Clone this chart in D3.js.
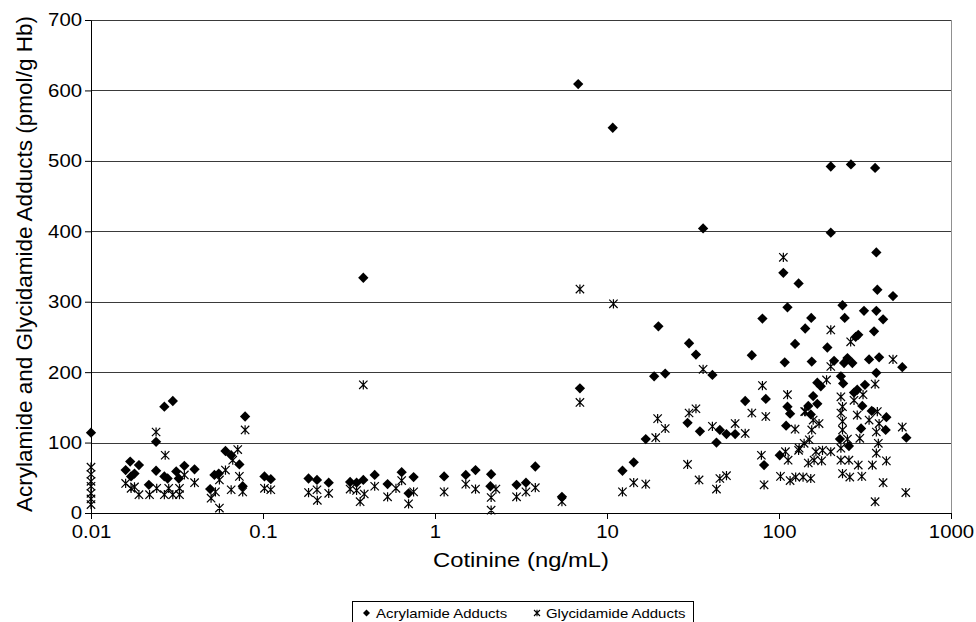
<!DOCTYPE html>
<html><head><meta charset="utf-8">
<script src="https://cdn.jsdelivr.net/npm/d3@7"></script>
<style>
html,body{margin:0;padding:0;background:#fff;}
svg{display:block;font-family:"Liberation Sans",Arial,sans-serif;}
</style></head>
<body><svg id="c" width="976" height="622"></svg>
<script>
// ---- data ----
const xTicks = [0.01, 0.1, 1, 10, 100, 1000];
const xTickLabels = ["0.01", "0.1", "1", "10", "100", "1000"];
const yTicks = [0, 100, 200, 300, 400, 500, 600, 700];
const seriesNames = ["Acrylamide Adducts", "Glycidamide Adducts"];

const acrX = [0.01,0.0159,0.0169,0.0179,0.0190,0.0171,0.0217,0.0239,0.0239,0.0267,0.0267,0.0279,0.0299,0.0313,0.0324,0.0349,0.0400,0.0493,0.0522,0.0553,0.0605,0.0653,0.0729,0.0762,0.0787,0.102,0.111,
0.184,0.206,0.241,0.321,0.350,0.383,0.383,0.446,0.530,0.640,0.702,0.751,1.13,1.51,1.72,2.12,2.10,2.98,3.38,3.83,5.47,6.80,6.96,10.8,12.3,14.3,16.8,18.8,19.9,21.8,
30.0,32.9,29.4,34.7,36.2,41.0,43.3,45.3,49.5,55.6,63.6,69.5,80.1,83.8,81.9,101,106,108,110,112,112,116,124,130,142,148,153,154,155,158,167,167,175,191,200,200,209,226,229,234,236,239,241,250,255,262,267,273,279,285,289,300,305,312,316,334,346,357,362,368,368,368,373,382,403,417,421,460,521,550];
const acrY = [114,61,73,56,68,52,40,60,101,151,52,49,159,59,49,67,62,34,54,56,88,82,69,38,137,52,48,
49,47,43,44,43,334,47,54,41,58,28,51,52,54,61,55,38,40,43,66,23,609,177,547,60,72,105,194,265,198,
241,225,128,116,404,196,100,118,112,112,159,224,276,162,68,82,341,214,124,151,292,141,240,326,262,152,140,277,215,166,185,155,180,235,492,398,216,105,194,295,184,213,277,220,95,495,213,171,250,175,253,120,152,287,182,218,145,258,490,370,287,199,317,221,275,118,136,308,207,107];

const glyX = [0.01,0.01,0.01,0.01,0.01,0.01,0.01,0.0239,0.0270,0.0159,0.0171,0.0179,0.0190,0.0219,0.0241,0.0267,0.0283,0.0299,0.0327,0.0327,0.0349,0.0400,0.0499,0.0529,0.0558,0.0558,0.0605,0.0653,0.0667,0.0713,0.0729,0.0762,0.0787,0.102,0.111,
0.184,0.206,0.207,0.241,0.321,0.350,0.367,0.383,0.388,0.446,0.530,0.593,0.640,0.702,0.751,1.13,1.51,1.72,2.12,2.12,2.26,2.98,3.38,3.83,5.47,6.96,6.96,10.9,12.3,14.3,16.8,19.2,19.7,
106,36.2,80.1,112,21.8,30.0,32.9,69.5,83.8,41.0,55.6,63.6,124,141,29.4,34.3,43.3,45.3,49.5,79.0,81.9,102,116,125,138,109,113,130,140,
200,200,261,460,189,362,362,229,229,229,229,273,308,234,234,234,234,143,373,285,334,158,155,171,382,368,368,521,250,295,378,150,131,164,179,200,148,160,177,255,289,349,421,153,258,303,403,546];
const glyY = [65,55,45,38,28,20,12,115,82,42,35,37,26,26,35,26,35,26,35,26,54,43,21,30,7,47,61,33,75,90,52,30,118,35,33,
29,33,18,28,34,32,16,182,27,38,23,35,46,13,30,30,41,34,22,4,34,23,30,36,16,157,318,297,30,43,41,107,134,
363,204,181,168,120,142,148,142,137,123,127,113,119,144,69,47,34,49,53,82,40,52,46,51,51,87,75,89,99,
260,208,243,218,189,183,16,165,142,92,75,160,168,151,130,118,56,144,144,139,132,132,118,127,127,115,85,122,105,106,99,104,92,87,89,87,71,75,74,75,68,68,74,49,51,52,43,29];

const acr = acrX.map((x, i) => ({x, y: acrY[i]}));
const gly = glyX.map((x, i) => ({x, y: glyY[i]}));

// ---- layout ----
const svg = d3.select("#c");
const L = 91, T = 20, W = 860, H = 493;
const SX = 1.1;   // horizontal text stretch seen in the reference
const LSX = 1.15; // legend text stretch
const x = d3.scaleLog().domain([0.01, 1000]).range([0, W]);
const y = d3.scaleLinear().domain([0, 700]).range([H, 0]);
const g = svg.append("g").attr("transform", `translate(${L},${T})`);

// gridlines
g.append("g").selectAll("line").data(yTicks.filter(d => d > 0)).join("line")
  .attr("x1", 0).attr("x2", W)
  .attr("y1", d => Math.round(y(d)) + 0.5).attr("y2", d => Math.round(y(d)) + 0.5)
  .attr("stroke", "#3a3a3a").attr("stroke-width", 1);
// right border
g.append("line").attr("x1", W + 0.5).attr("x2", W + 0.5).attr("y1", 0).attr("y2", H)
  .attr("stroke", "#909090");

// axes
const yAxis = g.append("g").call(d3.axisLeft(y).tickValues(yTicks).tickSize(6).tickPadding(4).tickFormat(d3.format("d")));
const xAxis = g.append("g").attr("transform", `translate(0,${H})`)
  .call(d3.axisBottom(x).tickValues(xTicks).tickSize(6).tickPadding(6).tickFormat((d, i) => xTickLabels[i]));
[yAxis, xAxis].forEach(a => {
  a.select(".domain").attr("stroke", "#000");
  a.selectAll(".tick line").attr("stroke", "#000");
  a.selectAll("text").attr("font-size", 18.5).attr("fill", "#000").attr("font-family", "Liberation Sans, Arial, sans-serif");
});
yAxis.selectAll(".tick text").attr("x", -9 / SX).attr("transform", `scale(${SX},1)`);
xAxis.selectAll(".tick text").attr("transform", `scale(${SX},1)`);
yAxis.selectAll(".domain").attr("d", `M0.5,${H}V0.5`);

// symbols
const diamondType = { draw(ctx, size) { const r = Math.sqrt(size) / 2; ctx.moveTo(0, -r); ctx.lineTo(r, 0); ctx.lineTo(0, r); ctx.lineTo(-r, 0); ctx.closePath(); } };
const starType = { draw(ctx, size) { const r = Math.sqrt(size) / 2; ctx.moveTo(-r, -r); ctx.lineTo(r, r); ctx.moveTo(-r, r); ctx.lineTo(r, -r); ctx.moveTo(0, -r * 1.1); ctx.lineTo(0, r * 1.1); } };
const diamond = d3.symbol().type(diamondType).size(106);
const star = d3.symbol().type(starType).size(70);

g.append("g").selectAll("path").data(gly).join("path")
  .attr("transform", d => `translate(${x(d.x)},${y(d.y)})`)
  .attr("d", star).attr("fill", "none").attr("stroke", "#000").attr("stroke-width", 1.2);
g.append("g").selectAll("path").data(acr).join("path")
  .attr("transform", d => `translate(${x(d.x)},${y(d.y)})`)
  .attr("d", diamond).attr("fill", "#000");

// titles
svg.append("text").attr("x", L + W / 2).attr("y", 567).attr("text-anchor", "middle")
  .attr("font-size", 21).attr("textLength", 176).attr("lengthAdjust", "spacingAndGlyphs")
  .text("Cotinine (ng/mL)");
svg.append("text").attr("transform", `translate(32,264) rotate(-90)`).attr("text-anchor", "middle")
  .attr("font-size", 21.5).attr("textLength", 496).attr("lengthAdjust", "spacingAndGlyphs")
  .text("Acrylamide and Glycidamide Adducts (pmol/g Hb)");

// legend
const lg = svg.append("g");
lg.append("rect").attr("x", 352.5).attr("y", 601.5).attr("width", 341).attr("height", 30)
  .attr("fill", "#fff").attr("stroke", "#000");
lg.append("path").attr("transform", "translate(366.5,613)").attr("d", d3.symbol().type(diamondType).size(49)).attr("fill", "#000");
lg.append("text").attr("x", 376 / LSX).attr("y", 618).attr("transform", `scale(${LSX},1)`).attr("font-size", 13).text(seriesNames[0]);
lg.append("path").attr("transform", "translate(537,613)").attr("d", d3.symbol().type(starType).size(36)).attr("fill", "none").attr("stroke", "#000").attr("stroke-width", 1.1);
lg.append("text").attr("x", 546 / LSX).attr("y", 618).attr("transform", `scale(${LSX},1)`).attr("font-size", 13).text(seriesNames[1]);
</script></body></html>
